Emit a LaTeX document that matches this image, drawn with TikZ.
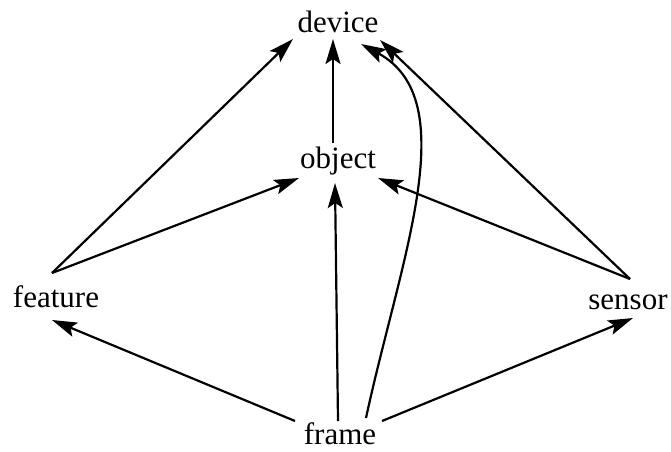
\documentclass[tikz,border=0pt]{standalone}
\usepackage{fontspec}
\setmainfont{Liberation Serif}
\usetikzlibrary{arrows.meta}
\begin{document}
\begin{tikzpicture}[x=1pt,y=-1pt,
  lbl/.style={inner sep=0pt,anchor=base,font=\fontsize{31}{31}\selectfont},
  conn/.style={line width=2.2pt,-{Stealth[length=25pt,width=15pt,inset=5pt]}}]
\useasboundingbox (0,0) rectangle (671,451);
\node[lbl] (device) at (338,32) {device};
\node[lbl] (object) at (338,168) {object};
\node[lbl] (feature) at (56,307) {feature};
\node[lbl] (sensor) at (628,309) {sensor};
\node[lbl] (frame) at (340,444) {frame};
% endpoints
\coordinate (fT) at (52,273);
\coordinate (sT) at (630,279);
\coordinate (dL) at (293,39);
\coordinate (dM) at (333,39);
\coordinate (dC) at (361,44);
\coordinate (dR) at (380,40);
\coordinate (oL) at (299,178);
\coordinate (oT) at (333,143);
\coordinate (oB) at (335,183);
\coordinate (oR) at (378,178);
\coordinate (fB) at (52,320);
\coordinate (sB) at (633,318);
\coordinate (frL) at (295,421);
\coordinate (frM) at (338,421);
\coordinate (frC) at (366,418);
\coordinate (frR) at (382,421);
\draw[conn] (fT) -- (dL);
\draw[conn] (fT) -- (oL);
\draw[conn] (oT) -- (dM);
\draw[conn] (frM) -- (oB);
\draw[conn] (sT) -- (dR);
\draw[conn] (sT) -- (oR);
\draw[conn] (frL) -- (fB);
\draw[conn] (frR) -- (sB);
\draw[conn] (frC) .. controls (400,260) and (465,100) .. (dC);
\end{tikzpicture}
\end{document}
